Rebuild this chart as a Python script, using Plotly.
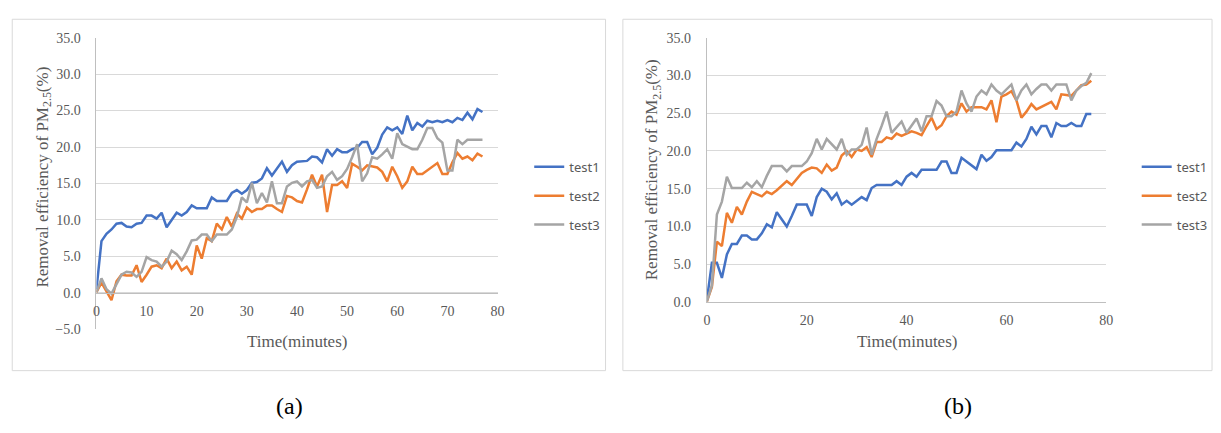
import plotly.graph_objects as go

# Sampling times (minutes) shared by every test run
minutes = list(range(78))

# Panel (a): removal efficiency of PM2.5 (%)
a_test1 = [0.5, 7.1, 8.1, 8.7, 9.5, 9.6, 9.1, 9.0, 9.5, 9.6,
           10.6, 10.6, 10.2, 11.0, 9.0, 10.0, 11.0, 10.6, 11.1, 12.0,
           11.6, 11.6, 11.6, 13.1, 12.6, 12.6, 12.6, 13.7, 14.1, 13.6,
           14.1, 15.1, 15.2, 15.7, 17.1, 16.1, 17.0, 18.0, 16.6, 17.5,
           18.0, 18.1, 18.1, 18.7, 18.6, 17.9, 19.7, 18.8, 19.7, 19.3,
           19.3, 19.7, 19.9, 20.7, 20.7, 19.0, 19.9, 21.7, 22.7, 22.3,
           22.7, 21.8, 24.3, 22.3, 23.3, 22.8, 23.6, 23.4, 23.6, 23.4,
           23.7, 23.4, 24.0, 23.7, 24.7, 23.8, 25.2, 24.8]
a_test2 = [0.1, 1.4, 0.2, -1.0, 1.6, 2.5, 2.4, 2.4, 3.8, 1.5,
           2.5, 3.6, 3.8, 3.4, 4.7, 3.4, 4.3, 3.1, 3.6, 2.5,
           6.5, 4.7, 7.5, 7.1, 9.5, 8.7, 10.4, 9.1, 10.9, 10.2,
           11.7, 11.1, 11.5, 11.5, 12.0, 12.0, 11.5, 11.1, 13.3, 13.1,
           12.6, 12.4, 14.2, 16.2, 14.6, 16.2, 11.1, 14.8, 14.8, 15.3,
           14.4, 17.7, 17.3, 16.8, 17.5, 17.3, 17.2, 16.6, 15.3, 17.3,
           16.0, 14.4, 15.3, 17.3, 16.3, 16.3, 16.8, 17.3, 17.8, 16.3,
           16.3, 17.9, 19.2, 18.4, 18.7, 18.2, 19.1, 18.7]
a_test3 = [0.1, 2.0, 0.5, -0.1, 1.2, 2.5, 2.9, 2.8, 2.2, 2.9,
           4.9, 4.5, 4.3, 3.6, 4.3, 5.8, 5.3, 4.5, 5.7, 7.2,
           7.3, 8.0, 8.0, 7.1, 8.0, 8.0, 8.0, 8.7, 10.4, 13.1,
           12.4, 15.1, 12.3, 13.7, 12.4, 15.3, 12.3, 12.3, 14.6, 15.1,
           15.3, 14.6, 15.3, 15.5, 14.4, 14.6, 16.0, 16.6, 15.5, 16.0,
           17.0, 18.6, 20.4, 15.3, 16.4, 18.6, 18.4, 19.0, 19.7, 18.4,
           21.9, 20.4, 20.1, 19.7, 19.7, 21.0, 22.6, 22.6, 21.2, 20.6,
           16.8, 16.8, 21.0, 20.4, 21.0, 21.0, 21.0, 21.0]

# Panel (b): removal efficiency of PM2.5 (%)
b_test1 = [0.3, 5.2, 5.2, 3.2, 6.3, 7.7, 7.7, 8.8, 8.8, 8.3,
           8.3, 9.1, 10.3, 9.9, 11.9, 10.9, 10.0, 11.4, 12.9, 12.9,
           12.9, 11.4, 13.9, 15.0, 14.6, 13.6, 14.4, 12.9, 13.4, 12.9,
           13.4, 13.9, 13.5, 15.1, 15.5, 15.5, 15.5, 15.5, 16.0, 15.5,
           16.6, 17.1, 16.6, 17.5, 17.5, 17.5, 17.5, 18.6, 18.6, 17.1,
           17.1, 19.1, 18.6, 18.1, 17.6, 19.5, 18.7, 19.2, 20.1, 20.1,
           20.1, 20.1, 21.1, 20.6, 21.6, 23.2, 22.2, 23.3, 23.3, 21.8,
           23.7, 23.3, 23.3, 23.7, 23.3, 23.3, 24.9, 24.9]
b_test2 = [0.1, 2.0, 8.0, 7.4, 11.8, 10.5, 12.6, 11.6, 13.3, 14.6,
           14.3, 14.0, 14.6, 14.3, 14.8, 15.4, 16.0, 15.5, 16.3, 17.1,
           17.5, 17.8, 17.7, 17.1, 18.2, 17.4, 17.8, 19.4, 20.0, 19.2,
           20.2, 20.0, 20.5, 19.2, 21.2, 21.2, 21.8, 21.6, 22.3, 22.0,
           22.3, 22.6, 22.4, 22.1, 23.3, 24.4, 22.9, 23.4, 24.6, 25.2,
           24.8, 26.3, 25.2, 25.8, 25.8, 25.8, 25.5, 26.7, 23.8, 27.2,
           27.5, 27.9, 26.7, 24.4, 25.2, 26.2, 25.5, 25.8, 26.2, 26.5,
           25.5, 27.5, 27.4, 27.3, 28.0, 28.7, 28.8, 29.3]
b_test3 = [0.1, 2.2, 11.6, 13.3, 16.6, 15.1, 15.1, 15.1, 15.8, 15.2,
           16.0, 15.2, 16.7, 18.0, 18.0, 18.0, 17.3, 18.0, 18.0, 18.0,
           18.6, 19.7, 21.6, 20.2, 21.6, 20.9, 20.2, 21.6, 19.5, 20.2,
           20.2, 20.8, 23.1, 19.5, 21.6, 23.3, 25.2, 22.4, 23.1, 23.9,
           22.4, 23.3, 24.3, 22.6, 24.6, 24.6, 26.6, 26.0, 24.6, 24.6,
           25.2, 28.0, 26.3, 25.2, 27.2, 28.0, 27.5, 28.8, 28.0, 27.5,
           28.2, 28.8, 26.7, 28.0, 28.8, 27.5, 28.2, 28.8, 28.8, 28.0,
           28.8, 28.8, 28.8, 26.7, 28.0, 28.6, 29.0, 30.3]

series_names = ["test1", "test2", "test3"]
series_colors = ["#4472C4", "#ED7D31", "#A5A5A5"]

W, H = 1221, 433
TEXT_GRAY = "#595959"
GRID = "#D9D9D9"
SERIF = "Liberation Serif"


def px_x(p):
    return p / W


def px_y(p):
    return 1 - p / H


fig = go.Figure()

panels = [
    ("x", "y", "legend", [a_test1, a_test2, a_test3], "a"),
    ("x2", "y2", "legend2", [b_test1, b_test2, b_test3], "b"),
]
for xa, ya, leg, data, tag in panels:
    for name, color, values in zip(series_names, series_colors, data):
        fig.add_trace(go.Scatter(
            x=minutes, y=values, name=name, mode="lines",
            line=dict(color=color, width=2.5),
            xaxis=xa, yaxis=ya, legend=leg, legendgroup=tag + name,
        ))

tick_font = dict(family=SERIF, size=14, color=TEXT_GRAY)
legend_font = dict(family="Noto Sans", size=13, color=TEXT_GRAY)

fig.update_layout(
    width=W, height=H,
    margin=dict(l=0, r=0, t=0, b=0),
    paper_bgcolor="white", plot_bgcolor="white",
    showlegend=True,
    xaxis=dict(
        domain=[px_x(93.3), px_x(498)], range=[0, 80], dtick=10,
        anchor="free", position=px_y(296),
        showline=True, linecolor="#BFBFBF", linewidth=1,
        showgrid=False, zeroline=False, ticks="",
        tickfont=tick_font, ticklabelstandoff=5,
    ),
    yaxis=dict(
        domain=[px_y(334), px_y(31.7)], range=[-5, 35], dtick=5,
        tickformat=".1f", anchor="x",
        showgrid=True, gridcolor=GRID, gridwidth=1, zeroline=False,
        showline=True, linecolor="#BFBFBF", linewidth=1, ticks="",
        tickfont=tick_font, ticklabelstandoff=12,
    ),
    xaxis2=dict(
        domain=[px_x(709.3), px_x(1112.3)], range=[0, 80], dtick=20,
        anchor="y2",
        showline=True, linecolor="#BFBFBF", linewidth=1,
        showgrid=False, zeroline=False, ticks="",
        tickfont=tick_font, ticklabelstandoff=5,
    ),
    yaxis2=dict(
        domain=[px_y(305.7), px_y(31.7)], range=[0, 35], dtick=5,
        tickformat=".1f", anchor="x2",
        showgrid=True, gridcolor=GRID, gridwidth=1, zeroline=False,
        showline=True, linecolor="#BFBFBF", linewidth=1, ticks="",
        tickfont=tick_font, ticklabelstandoff=12,
    ),
    legend=dict(
        x=px_x(530), y=px_y(150), xanchor="left", yanchor="top",
        bgcolor="rgba(0,0,0,0)", tracegroupgap=9, traceorder="grouped",
        font=legend_font,
    ),
    legend2=dict(
        x=px_x(1143), y=px_y(150), xanchor="left", yanchor="top",
        bgcolor="rgba(0,0,0,0)", tracegroupgap=9, traceorder="grouped",
        font=legend_font,
    ),
)

# Chart-area frames around each panel
for x0, x1 in [(8.3, 607), (624.5, 1219)]:
    fig.add_shape(type="rect", xref="paper", yref="paper",
                  x0=px_x(x0), x1=px_x(x1), y0=px_y(376.7), y1=px_y(12.7),
                  line=dict(color=GRID, width=1), fillcolor="rgba(0,0,0,0)",
                  layer="below")

title_font = dict(family=SERIF, size=17, color=TEXT_GRAY)
y_title = "Removal efficiency of PM<sub>2.5</sub>(%)"
for cx, cy in [(40, 176), (655, 169)]:
    fig.add_annotation(text=y_title, textangle=-90, xref="paper", yref="paper",
                       x=px_x(cx), y=px_y(cy), xanchor="center", yanchor="middle",
                       showarrow=False, font=title_font)
for cx in [296, 911]:
    fig.add_annotation(text="Time(minutes)", xref="paper", yref="paper",
                       x=px_x(cx), y=px_y(347), xanchor="center", yanchor="middle",
                       showarrow=False, font=title_font)

for label, cx in [("(a)", 288), ("(b)", 963)]:
    fig.add_annotation(text=label, xref="paper", yref="paper",
                       x=px_x(cx), y=px_y(413), xanchor="center", yanchor="middle",
                       showarrow=False,
                       font=dict(family=SERIF, size=24, color="black"))

fig.write_html("out.html")
